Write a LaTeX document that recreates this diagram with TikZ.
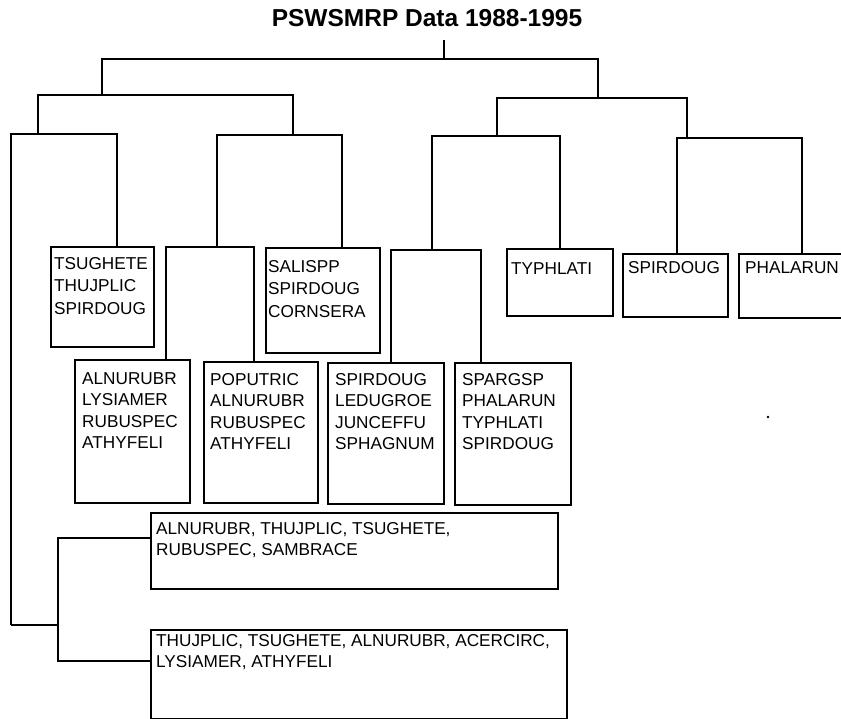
\documentclass[tikz,border=0pt]{standalone}
\usepackage{fontspec}
\setmainfont{Liberation Sans}
\begin{document}
\begin{tikzpicture}[x=1pt,y=-1pt,
  bx/.style={draw, line width=2pt, inner sep=0pt, anchor=north west, rectangle},
  txt/.style={anchor=north west, align=left, inner sep=0pt, font=\fontsize{17.2}{21.5}\selectfont},
  txttop/.style={txt, font=\fontsize{17.2}{22.5}\selectfont},
  link/.style={draw, line width=1.9pt, line join=miter}]
\useasboundingbox (0,0) rectangle (841,719);
\clip (0,0) rectangle (841,719);
\fill[white] (0,0) rectangle (841,719);

% title
\node[font=\fontsize{24.5}{28}\selectfont\bfseries, anchor=base, inner sep=0pt] (title) at (427,27) {PSWSMRP Data 1988-1995};

% boxes
\node[bx, minimum width=103pt, minimum height=100pt] (ts) at (50,246) {};
\node[bx, minimum width=114pt, minimum height=105pt] (sa) at (265,247) {};
\node[bx, minimum width=106pt, minimum height=67pt] (ty) at (506,248) {};
\node[bx, minimum width=105pt, minimum height=63pt] (sp) at (622,253) {};
\node[bx, minimum width=120pt, minimum height=64pt] (ph) at (738,253) {};
\node[bx, minimum width=115pt, minimum height=143pt] (al) at (74,359) {};
\node[bx, minimum width=114pt, minimum height=141pt] (po) at (203,361) {};
\node[bx, minimum width=116pt, minimum height=141pt] (sd) at (327,362) {};
\node[bx, minimum width=116pt, minimum height=142pt] (sg) at (454,362) {};
\node[bx, minimum width=407pt, minimum height=76pt] (u1) at (150,512) {};
\node[bx, minimum width=416pt, minimum height=89pt] (u2) at (150,629) {};

% texts
\node[txttop] (tts) at ([shift={(4,11)}]ts.north west) {TSUGHETE\\THUJPLIC\\SPIRDOUG};
\node[txttop] (tsa) at ([shift={(3,13)}]sa.north west) {SALISPP\\SPIRDOUG\\CORNSERA};
\node[txt] (tty) at ([shift={(5,14)}]ty.north west) {TYPHLATI};
\node[txt] (tsp) at ([shift={(6,8)}]sp.north west) {SPIRDOUG};
\node[txt] (tph) at ([shift={(7,8)}]ph.north west) {PHALARUN};
\node[txt] (tal) at ([shift={(8,13)}]al.north west) {ALNURUBR\\LYSIAMER\\RUBUSPEC\\ATHYFELI};
\node[txt] (tpo) at ([shift={(7,12)}]po.north west) {POPUTRIC\\ALNURUBR\\RUBUSPEC\\ATHYFELI};
\node[txt] (tsd) at ([shift={(8,11)}]sd.north west) {SPIRDOUG\\LEDUGROE\\JUNCEFFU\\SPHAGNUM};
\node[txt] (tsg) at ([shift={(8,11)}]sg.north west) {SPARGSP\\PHALARUN\\TYPHLATI\\SPIRDOUG};
\node[txt] (tu1) at ([shift={(6,10)}]u1.north west) {ALNURUBR, THUJPLIC, TSUGHETE,\\RUBUSPEC, SAMBRACE};
\node[txt] (tu2) at ([shift={(6,5)}]u2.north west) {THUJPLIC, TSUGHETE, ALNURUBR, ACERCIRC,\\LYSIAMER, ATHYFELI};

% junction coordinates
\coordinate (tv) at (444,40);
\coordinate (r) at (444,59);
\coordinate (nL) at (102,95);
\coordinate (nR) at (598,98);
\coordinate (nLL) at (38,134);
\coordinate (nLR) at (293,135);
\coordinate (nRL) at (497,136);
\coordinate (nRR) at (687,138);
\coordinate (k1) at (11,625);
\coordinate (k2) at (58,625);
\coordinate (bt) at (58,538);
\coordinate (bb) at (58,661);
\coordinate (ar) at (217,247);
\coordinate (as) at (432,250);
\coordinate (xts) at (117,0);
\coordinate (xsa) at (342,0);
\coordinate (xal) at (166,0);
\coordinate (xpo) at (254,0);
\coordinate (xty) at (560,0);
\coordinate (xsd) at (391,0);
\coordinate (xsg) at (481,0);
\coordinate (xsp) at (677,0);
\coordinate (xph) at (802,0);

% connectors
\draw[link] (tv) -- (r);
\draw[link] (nL) |- (r) -| (nR);
\draw[link] (nLL) |- (nL) -| (nLR);
\draw[link] (nRL) |- (nR) -| (nRR);
\draw[link] (k1) |- (nLL) -| (ts.north -| xts);
\draw[link] (k1) -- (k2);
\draw[link] (u1.west |- bt) -- (bt) -- (bb) -- (u2.west |- bb);
\draw[link] (ar) |- (nLR) -| (sa.north -| xsa);
\draw[link] (al.north -| xal) |- (ar) -| (po.north -| xpo);
\draw[link] (as) |- (nRL) -| (ty.north -| xty);
\draw[link] (sd.north -| xsd) |- (as) -| (sg.north -| xsg);
\draw[link] (sp.north -| xsp) |- (nRR) -| (ph.north -| xph);

% speck
\fill (768,417) circle (1.3pt);
\end{tikzpicture}
\end{document}
